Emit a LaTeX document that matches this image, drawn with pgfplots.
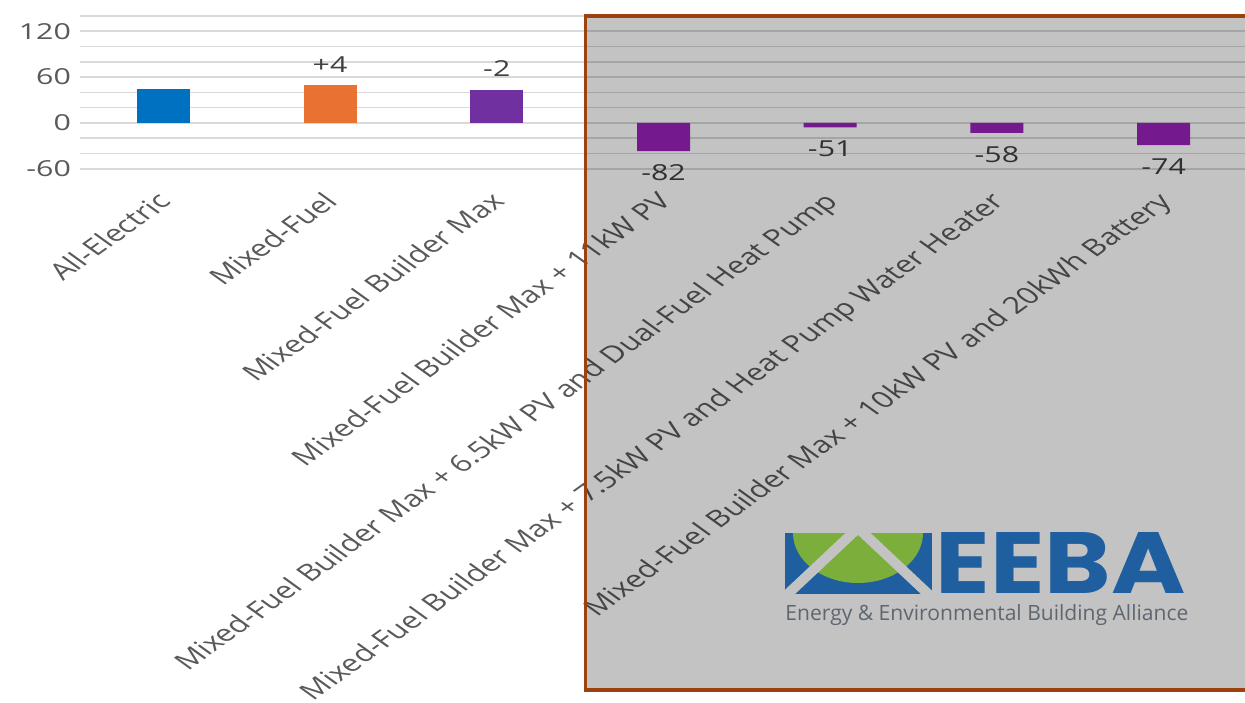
\documentclass[border=0pt]{standalone}
\usepackage{pgfplots}
\pgfplotsset{compat=1.18}
\usepackage{fontspec}
\setmainfont{Open Sans}[FakeStretch=1.38]
\newfontfamily\labelfont{Open Sans}
\newfontfamily\logofont{Poppins}

\definecolor{cBlue}{HTML}{0070C0}
\definecolor{cOrange}{HTML}{E97132}
\definecolor{cPurple}{HTML}{7030A0}
\definecolor{cPurpleB}{RGB}{154,34,186}
\definecolor{ticktext}{HTML}{595959}
\definecolor{valtext}{HTML}{404040}
\definecolor{gridgray}{HTML}{D9D9D9}
\definecolor{frameorange}{HTML}{9C420E}
\definecolor{boxgray}{HTML}{C3C3C3}
\definecolor{logoblue}{HTML}{1F5E9F}
\definecolor{logogreen}{HTML}{7BAE3A}
\definecolor{logogray}{HTML}{5E6770}

\begin{document}
\begin{tikzpicture}
\begin{axis}[
  at={(40pt,266.65pt)}, anchor=south west,
  scale only axis, width=583.5pt, height=76.35pt,
  xmin=-0.5, xmax=6.5, ymin=-60, ymax=140,
  enlargelimits=false, clip=false,
  axis line style={draw=none},
  tick style={draw=none}, major tick length=0pt, minor tick length=0pt,
  ytick={-60,0,60,120},
  yticklabels={-60,0,60,120},
  minor ytick={-40,-20,20,40,80,100,140},
  ymajorgrids, yminorgrids,
  major grid style={color=gridgray, line width=0.8pt},
  minor grid style={color=gridgray, line width=0.8pt},
  y tick label style={font=\fontsize{11}{13}\selectfont, text=ticktext, xshift=-1pt},
  xtick={0,1,2,3,4,5,6},
  xticklabels={
    All-Electric,
    Mixed-Fuel,
    Mixed-Fuel Builder Max,
    Mixed-Fuel Builder Max + 11kW PV,
    Mixed-Fuel Builder Max + 6.5kW PV and Dual-Fuel Heat Pump,
    Mixed-Fuel Builder Max + 7.5kW PV and Heat Pump Water Heater,
    Mixed-Fuel Builder Max + 10kW PV and 20kWh Battery},
  x tick label style={font=\labelfont\fontsize{11.6}{13}\selectfont, text=ticktext,
    anchor=north east, xshift=-4pt, yshift=-6pt,
    cm={0.9829,0.7071,-0.9829,0.7071,(0,0)}},
  ybar, bar width=26.5pt, bar shift=0pt,
  point meta=explicit symbolic,
  nodes near coords,
  every node near coord/.append style={font=\fontsize{11}{13}\selectfont,
    text=valtext, inner ysep=6.5pt, anchor=south},
]
% bar value and change label for each configuration
\addplot[fill=cBlue, draw=none] coordinates {(0,45) []};
\addplot[fill=cOrange, draw=none] coordinates {(1,49) [+4]};
\addplot[fill=cPurple, draw=none] coordinates {(2,43) [-2]};
\addplot[fill=cPurpleB, draw=none,
  every node near coord/.append style={anchor=north}] coordinates {
  (3,-37) [-82]
  (4,-6)  [-51]
  (5,-13) [-58]
  (6,-29) [-74]
};
\end{axis}

% shaded panel over the add-on configurations, with the logo
\begin{scope}[x=0.5pt, y=-0.5pt, yshift=351pt]
  \fill[black, fill opacity=0.2353] (585.5,16) rectangle (1262,690);
  \draw[frameorange, line width=1.6pt] (1262,16) -- (585.5,16) -- (585.5,690) -- (1262,690);
  \begin{scope}
    \clip (785,533) rectangle (932,594);
    \fill[logoblue] (785,533) rectangle (932,594);
    \fill[logogreen] (858,533) ellipse [x radius=65, y radius=50];
    \draw[boxgray, line width=5pt, miter limit=10] (775,606) -- (858,528) -- (941,606);
  \end{scope}
  \node[anchor=south west, inner sep=0pt, text=logoblue] at (935,594)
    {\resizebox{125pt}{30.5pt}{\logofont\bfseries EEBA}};
  \node[anchor=base west, inner sep=0pt, text=logogray] at (785,620)
    {\resizebox{201.5pt}{!}{\labelfont Energy \& Environmental Building Alliance}};
\end{scope}

\pgfresetboundingbox
\path[use as bounding box] (0,0) rectangle (622.5pt,351pt);
\end{tikzpicture}
\end{document}
